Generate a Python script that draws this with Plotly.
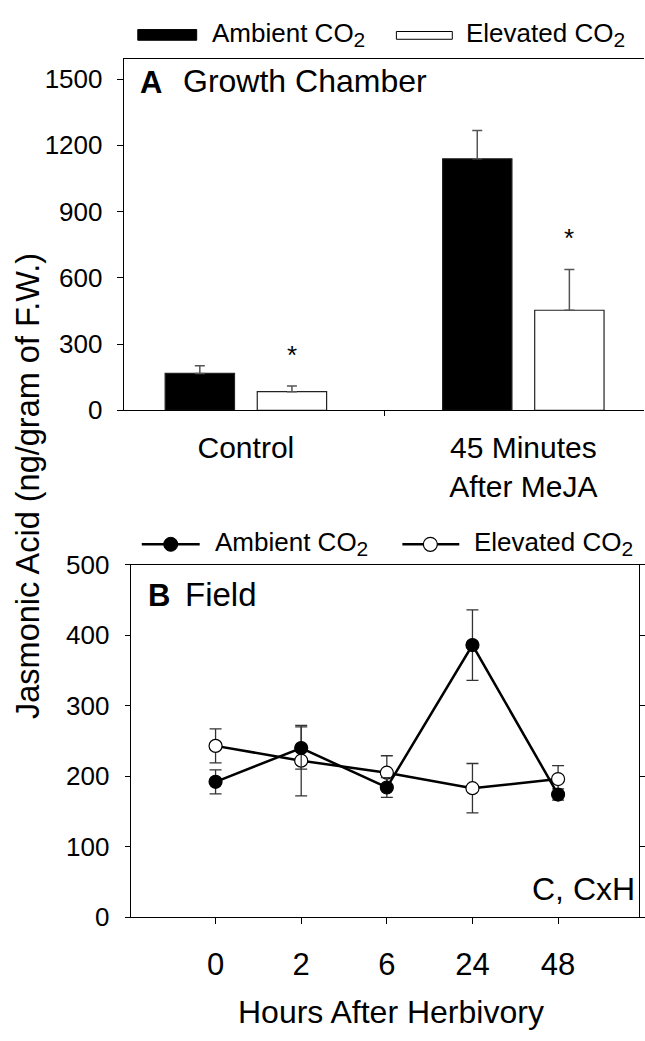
import plotly.graph_objects as go

W, H = 645, 1041
FONT = "Liberation Sans, Arial, sans-serif"

# ---------------- Panel A (Growth Chamber) ----------------
treatments = ["Control", "45 Minutes<br>After MeJA"]
amb_a = [167, 1139]
amb_a_err = [35, 128]
elev_a = [84, 453]
elev_a_err = [26, 185]
sig_elev_a = ["*", "*"]

# ---------------- Panel B (Field) ----------------
hours = ["0", "2", "6", "24", "48"]
amb_b = [192, 240, 184, 386, 174]
amb_b_err = [17, 30, 14, 50, 8]
elev_b = [243, 222, 205, 183, 196]
elev_b_err = [24, 50, 24, 35, 19]

yticks_a = [0, 300, 600, 900, 1200, 1500]
yticks_b = [0, 100, 200, 300, 400, 500]

CO2 = "CO<sub><span style='font-size:21px'>2</span></sub>"


def px_x(p):
    return p / W


def px_y(p):
    return 1 - p / H


fig = go.Figure()

BAR_W = 0.25
fig.add_trace(go.Bar(
    x=treatments, y=amb_a, name="Ambient CO2", xaxis="x", yaxis="y",
    width=BAR_W, offset=-0.291,
    marker=dict(color="black", line=dict(color="#222", width=1.2)),
    error_y=dict(type="data", array=amb_a_err, arrayminus=[0] * len(amb_a_err),
                 symmetric=False, color="#555", thickness=1.5, width=5),
    showlegend=False,
))
fig.add_trace(go.Bar(
    x=treatments, y=elev_a, name="Elevated CO2", xaxis="x", yaxis="y",
    width=BAR_W, offset=0.041,
    marker=dict(color="white", line=dict(color="#222", width=1.2)),
    error_y=dict(type="data", array=elev_a_err, arrayminus=[0] * len(elev_a_err),
                 symmetric=False, color="#555", thickness=1.5, width=5),
    showlegend=False,
))

fig.add_trace(go.Scatter(
    x=hours, y=elev_b, name="Elevated CO2", xaxis="x2", yaxis="y2",
    mode="lines+markers",
    line=dict(color="black", width=2.5),
    marker=dict(size=13, color="white", line=dict(color="black", width=1.2)),
    error_y=dict(type="data", array=elev_b_err, color="#333", thickness=1.3, width=6),
    showlegend=False,
))
fig.add_trace(go.Scatter(
    x=hours, y=amb_b, name="Ambient CO2", xaxis="x2", yaxis="y2",
    mode="lines+markers",
    line=dict(color="black", width=2.5),
    marker=dict(size=13, color="black", line=dict(color="black", width=1.2)),
    error_y=dict(type="data", array=amb_b_err, color="#333", thickness=1.3, width=6),
    showlegend=False,
))

annotations = []
# asterisks above elevated bars, derived from bar + error
for i, (v, e, s) in enumerate(zip(elev_a, elev_a_err, sig_elev_a)):
    annotations.append(dict(
        xref="x", yref="y", x=i + 0.166, y=v + e, yshift=31,
        text=s, showarrow=False, font=dict(size=26, color="black", family=FONT),
        xanchor="center", yanchor="middle",
    ))

# panel labels
annotations += [
    dict(xref="paper", yref="paper", x=px_x(138), y=px_y(70), text="<b>A</b>",
         showarrow=False, xanchor="left", yanchor="middle",
         font=dict(size=31, color="black", family=FONT)),
    dict(xref="paper", yref="paper", x=px_x(181), y=px_y(68), text="Growth Chamber",
         showarrow=False, xanchor="left", yanchor="middle",
         font=dict(size=32, color="black", family=FONT)),
    dict(xref="paper", yref="paper", x=px_x(146), y=px_y(598), text="<b>B</b>",
         showarrow=False, xanchor="left", yanchor="middle",
         font=dict(size=31, color="black", family=FONT)),
    dict(xref="paper", yref="paper", x=px_x(183), y=px_y(597), text="Field",
         showarrow=False, xanchor="left", yanchor="middle",
         font=dict(size=33, color="black", family=FONT)),
    dict(xref="paper", yref="paper", x=px_x(638), y=px_y(900), text="C, CxH",
         showarrow=False, xanchor="right", yanchor="middle",
         font=dict(size=32, color="black", family=FONT)),
    # shared y-axis title
    dict(xref="paper", yref="paper", x=px_x(28), y=px_y(485),
         text="Jasmonic Acid (ng/gram of F.W.)", textangle=-90,
         showarrow=False, xanchor="center", yanchor="middle",
         font=dict(size=32.5, color="black", family=FONT)),
    # x title panel B
    dict(xref="paper", yref="paper", x=px_x(392), y=px_y(1027),
         text="Hours After Herbivory",
         showarrow=False, xanchor="center", yanchor="middle",
         font=dict(size=32, color="black", family=FONT)),
    # legends
    dict(xref="paper", yref="paper", x=px_x(210), y=px_y(20), text="Ambient " + CO2,
         showarrow=False, xanchor="left", yanchor="middle",
         font=dict(size=26, color="black", family=FONT)),
    dict(xref="paper", yref="paper", x=px_x(465), y=px_y(20), text="Elevated " + CO2,
         showarrow=False, xanchor="left", yanchor="middle",
         font=dict(size=26, color="black", family=FONT)),
    dict(xref="paper", yref="paper", x=px_x(213), y=px_y(544), text="Ambient " + CO2,
         showarrow=False, xanchor="left", yanchor="middle",
         font=dict(size=26, color="black", family=FONT)),
    dict(xref="paper", yref="paper", x=px_x(473), y=px_y(544), text="Elevated " + CO2,
         showarrow=False, xanchor="left", yanchor="middle",
         font=dict(size=26, color="black", family=FONT)),
]

shapes = [
    # legend A swatches
    dict(type="rect", xref="paper", yref="paper", x0=px_x(138), x1=px_x(197),
         y0=px_y(26), y1=px_y(15), fillcolor="black", line=dict(color="black", width=1)),
    dict(type="rect", xref="paper", yref="paper", x0=px_x(397), x1=px_x(453),
         y0=px_y(25), y1=px_y(17), fillcolor="white", line=dict(color="black", width=1)),
    # legend B line symbols
    dict(type="line", xref="paper", yref="paper", x0=px_x(142), x1=px_x(200),
         y0=px_y(545), y1=px_y(545), line=dict(color="black", width=2.5)),
    dict(type="circle", xref="paper", yref="paper", xsizemode="pixel", ysizemode="pixel",
         xanchor=px_x(171), yanchor=px_y(545), x0=-7, x1=7, y0=-7, y1=7,
         fillcolor="black", line=dict(color="black", width=1)),
    dict(type="line", xref="paper", yref="paper", x0=px_x(403), x1=px_x(460),
         y0=px_y(545), y1=px_y(545), line=dict(color="black", width=2.5)),
    dict(type="circle", xref="paper", yref="paper", xsizemode="pixel", ysizemode="pixel",
         xanchor=px_x(431), yanchor=px_y(545), x0=-7, x1=7, y0=-7, y1=7,
         fillcolor="white", line=dict(color="black", width=1.2)),
]

axis_common = dict(showgrid=False, zeroline=False, showline=True, linecolor="black",
                   linewidth=1.2, ticks="outside", tickcolor="black", tickwidth=1,
                   ticklen=5)

fig.update_layout(
    width=W, height=H,
    margin=dict(l=0, r=0, t=0, b=0),
    paper_bgcolor="white", plot_bgcolor="white",
    font=dict(family=FONT, color="black"),
    barmode="overlay",
    showlegend=False,
    xaxis=dict(axis_common, domain=[px_x(124), 1.0], anchor="y",
               type="category", range=[-0.44, 1.435], mirror=True,
               tickson="boundaries", ticklabelstandoff=11,
               tickfont=dict(size=30, family=FONT)),
    yaxis=dict(axis_common, domain=[px_y(407), px_y(45)], anchor="x",
               range=[0, 1592], tickvals=yticks_a, ticklen=6,
               ticklabelstandoff=9, tickfont=dict(size=26, family=FONT)),
    xaxis2=dict(axis_common, domain=[px_x(131), px_x(640)], anchor="y2",
                type="category", range=[-0.99, 4.945], mirror=True,
                ticklen=6, ticklabelstandoff=13,
                tickfont=dict(size=31, family=FONT)),
    yaxis2=dict(axis_common, domain=[px_y(929), px_y(566)], anchor="x2",
                range=[0, 500], tickvals=yticks_b, mirror="ticks",
                ticklabelstandoff=10, tickfont=dict(size=26, family=FONT)),
    annotations=annotations,
    shapes=shapes,
)

fig.write_html("out.html")
